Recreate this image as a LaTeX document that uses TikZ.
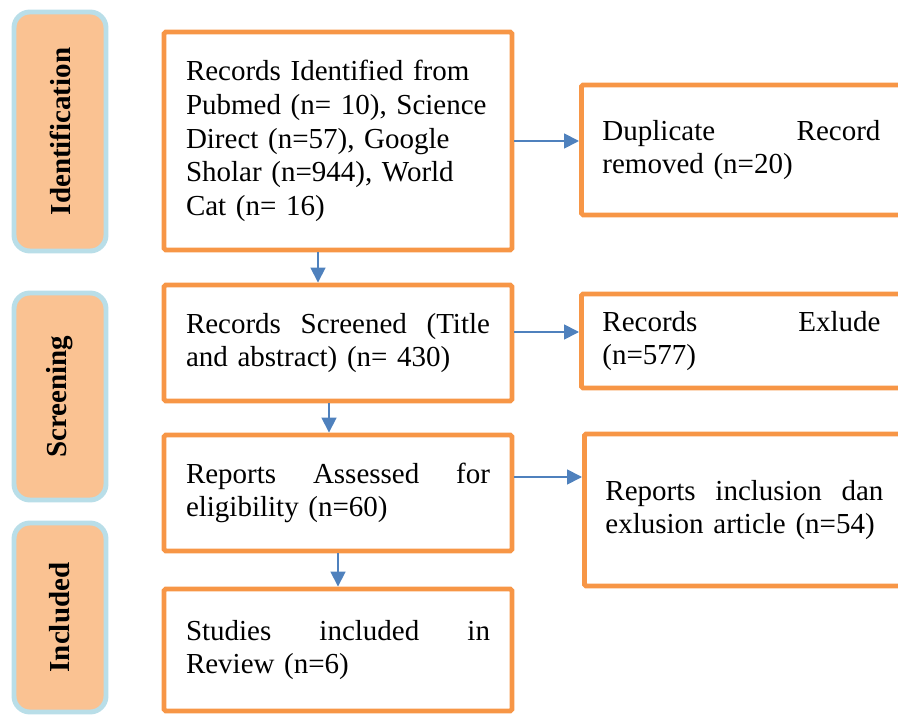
\documentclass[tikz,border=0pt]{standalone}
\usepackage{fontspec}
\setmainfont{Liberation Serif}
\usetikzlibrary{shapes,arrows.meta,positioning,calc}
\definecolor{boxorange}{RGB}{247,150,70}
\definecolor{stagefill}{RGB}{250,194,146}
\definecolor{stageline}{RGB}{185,222,232}
\definecolor{arrowblue}{RGB}{79,129,189}
\newcommand{\spreadline}[2][6.08cm]{\hbox to #1{#2}}

\tikzset{
  stagebox/.style={draw=stageline, line width=2.8pt, fill=stagefill,
    rounded corners=9pt, rotate=90, minimum height=1.84cm,
    font=\fontsize{16.5}{19.2}\selectfont\bfseries},
  flowbox/.style={draw=boxorange, line width=2.8pt, rounded corners=1pt,
    minimum width=6.96cm, text width=6.08cm, align=left, inner xsep=0.44cm,
    font=\fontsize{16.5}{19.2}\selectfont},
  sidebox/.style={flowbox, anchor=west, minimum width=7cm, text width=6.16cm,
    inner xsep=0.42cm},
  flowarrow/.style={draw=arrowblue, line width=1pt,
    -{Triangle[length=0.3cm,width=0.3cm]}}
}

\begin{document}
\begin{tikzpicture}
\useasboundingbox (0,0) rectangle (17.96,-14.3);

% ================= STAGE LABELS =================
\node[stagebox, minimum width=4.78cm] (identification) at (1.2,-2.63) {Identification};
\node[stagebox, minimum width=4.14cm] (screening) at (1.2,-7.93) {Screening};
\node[stagebox, minimum width=3.78cm] (included) at (1.2,-12.35) {Included};

% ================= MAIN FLOW =================
\node[flowbox, minimum height=4.36cm] (records) at (6.76,-2.82)
{Records Identified from\\
Pubmed (n= 10), Science\\
Direct (n=57), Google\\
Sholar (n=944), World\\
Cat (n= 16)};

\node[flowbox, minimum height=2.32cm] (screened) at (6.76,-6.86)
{\spreadline{Records\hfill Screened\hfill (Title}\\
and abstract) (n= 430)};

\node[flowbox, minimum height=2.32cm] (assessed) at (6.76,-9.86)
{\spreadline{Reports\hfill Assessed\hfill for}\\
eligibility (n=60)};

\node[flowbox, minimum height=2.44cm] (studies) at (6.76,-13.0)
{\spreadline{Studies\hfill included\hfill in}\\
Review (n=6)};

% ================= SIDE BOXES =================
\node[sidebox, minimum height=2.6cm] (duplicate) at (11.58,-3.0)
{\spreadline[5.56cm]{Duplicate\hfill Record}\\
removed (n=20)};

\node[sidebox, minimum height=1.88cm] (excluded) at (11.58,-6.82)
{\spreadline[5.56cm]{Records\hfill Exlude}\\
(n=577)};

\node[sidebox, minimum height=3.04cm] (inclusion) at (11.64,-10.2)
{\spreadline[5.56cm]{Reports\hfill inclusion\hfill dan}\\
exlusion article (n=54)};

% ================= ARROWS =================
\draw[flowarrow] (records.east) -- (records.east -| duplicate.west);
\draw[flowarrow] ([yshift=0.22cm]screened.east) -- ([yshift=0.22cm]screened.east -| excluded.west);
\draw[flowarrow] ([yshift=0.32cm]assessed.east) -- ([yshift=0.32cm]assessed.east -| inclusion.west);

\draw[flowarrow] ([xshift=-0.4cm]records.south) -- ([xshift=-0.4cm]records.south |- screened.north);
\draw[flowarrow] ([xshift=-0.18cm]screened.south) -- ([xshift=-0.18cm]screened.south |- assessed.north);
\draw[flowarrow] (assessed.south) -- (assessed.south |- studies.north);

\end{tikzpicture}
\end{document}
